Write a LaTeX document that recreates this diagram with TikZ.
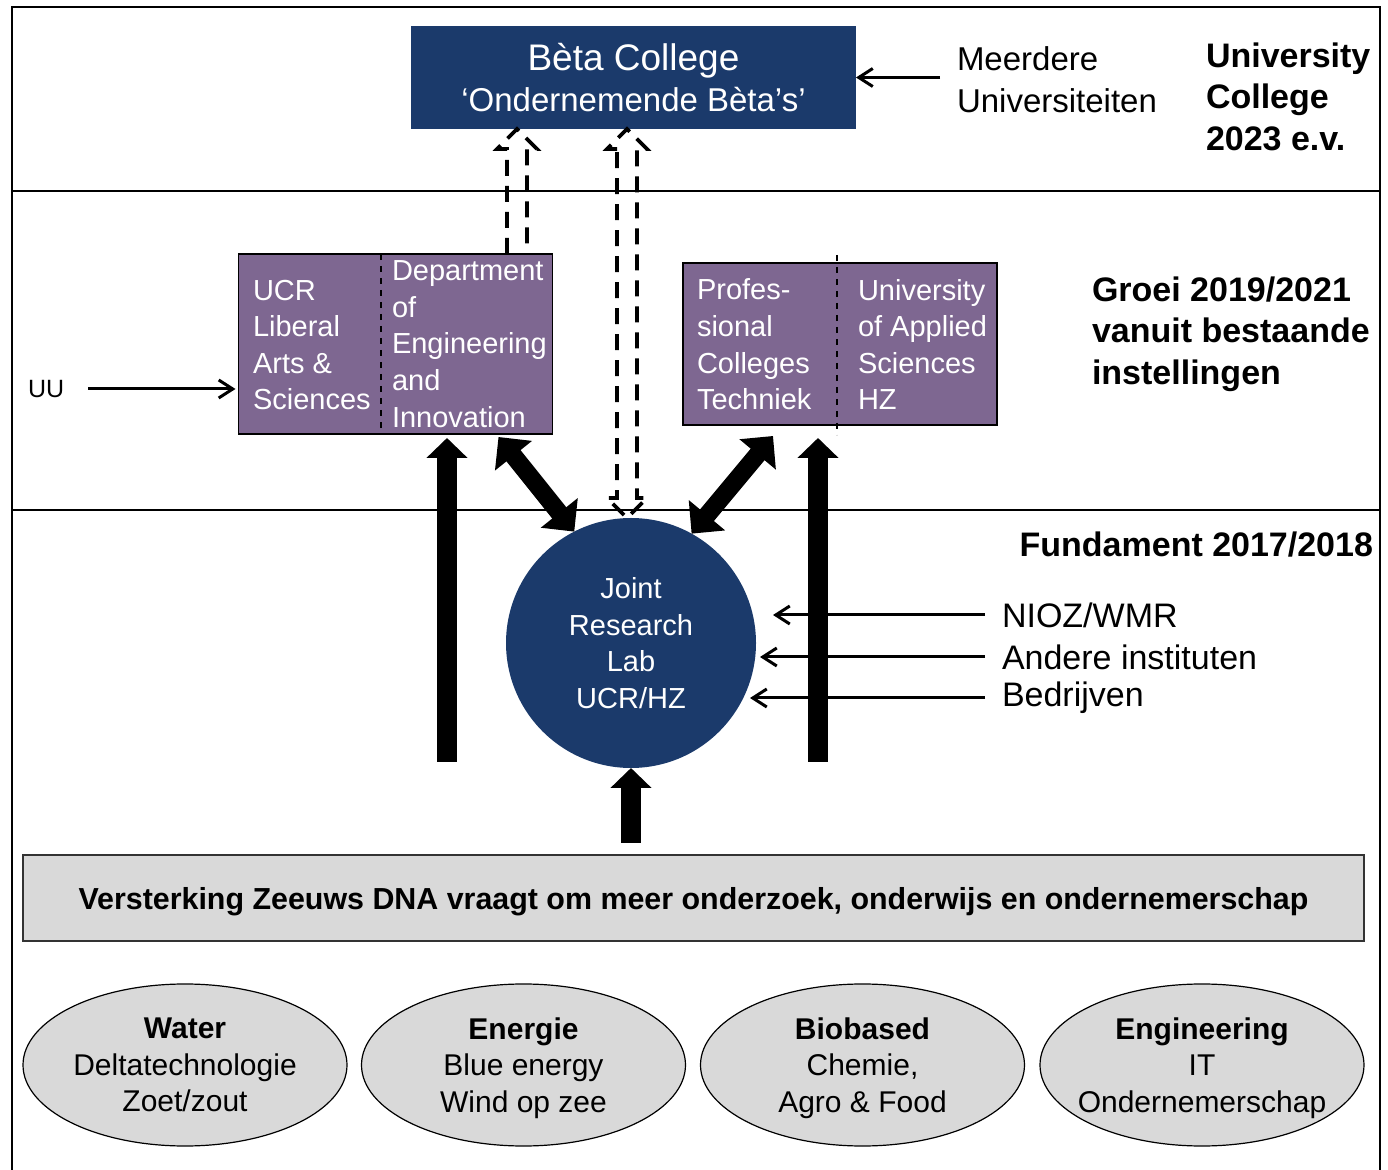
\documentclass[tikz,border=0pt]{standalone}
\usepackage{fontspec}
\setmainfont{Liberation Sans}
\usetikzlibrary{arrows.meta,calc,shapes.geometric}

\definecolor{betablue}{HTML}{1B3A6B}
\definecolor{hzpurple}{HTML}{7E6791}
\definecolor{zeeuwsgrey}{HTML}{D9D9D9}

\begin{document}
\begin{tikzpicture}[x=0.5pt, y=-0.5pt,
	%Option for arrows
	>=stealth, %
	inner sep=0pt, outer sep=0pt,%
	boxtext/.style={font=\fontsize{14.5}{18.3}\selectfont, text=white, align=left, anchor=west},
	label/.style={font=\fontsize{17}{20.75}\selectfont, align=left, anchor=west},
	fase/.style={font=\bfseries\fontsize{17}{20.75}\selectfont, align=left, anchor=west},
	instelling/.style={draw=black, line width=0.8pt, fill=hzpurple, minimum width=157pt, minimum height=#1},
	pijl/.style={line width=1.5pt, -{Straight Barb[length=7pt,width=9pt]}},
	blok/.style={line width=10pt, -{Triangle[length=10pt,width=20pt]}},
	dubbelblok/.style={line width=9pt, {Triangle[length=12pt,width=23pt]}-{Triangle[length=12pt,width=23pt]}},
	stippel/.style={line width=1.8pt, dash pattern=on 8pt off 5pt},
	sector/.style={ellipse, draw=black, line width=0.6pt, fill=zeeuwsgrey, minimum width=162pt, minimum height=81pt},
	sectortext/.style={align=center, text depth=0pt, font=\fontsize{15}{18.25}\selectfont},
	]
	\useasboundingbox (0,0) rectangle (1388,1170);
	
	% Frame and phases
	\draw[line width=1pt] (12,1170) -- (12,7) -- (1380,7) -- (1380,1170);
	\draw[line width=1pt] (12,191) -- (1380,191) (12,510) -- (1380,510);
	
	% University College 2023
	\node[fill=betablue, minimum width=222.5pt, minimum height=51.5pt, text=white, align=center] (beta) at (633.5,77.5)
	{\fontsize{18.5}{21}\selectfont Bèta College\\[3.5pt]\fontsize{16.5}{21}\selectfont ‘Ondernemende Bèta’s’};
	\node[label, font=\fontsize{16.5}{21}\selectfont] (meer) at (957,80) {Meerdere\\Universiteiten};
	\node[fase] (uc) at (1206,96.5) {University\\College\\2023 e.v.};
	
	% Groei 2019/2021
	\coordinate (ucrdiv) at (381,0);
	\coordinate (pctdiv) at (837,0);
	\node[instelling=90pt] (ucr) at (395.5,344) {};
	\draw[dashed, line width=0.6pt] (ucr.north -| ucrdiv) -- (ucr.south -| ucrdiv);
	\node[boxtext] (ucrl) at (253,345) {UCR\\Liberal\\Arts \&\\Sciences};
	\node[boxtext] (ucrr) at (392,344) {Department\\of\\Engineering\\and\\Innovation};
	
	\node[instelling=81pt] (pct) at (840,344) {};
	\draw[dashed, line width=0.6pt] ($(pct.north -| pctdiv)+(0,-8)$) -- ($(pct.south -| pctdiv)+(0,10)$);
	\node[boxtext] (pctl) at (697,344.5) {Profes-\\sional\\Colleges\\Techniek};
	\node[boxtext] (pctr) at (858,344.5) {University\\of Applied\\Sciences\\HZ};
	
	\node[fase] (groei) at (1092,334) {Groei 2019/2021\\vanuit bestaande\\instellingen};
	\node[label, font=\fontsize{12.5}{15}\selectfont] (uu) at (28,389) {UU};
	
	% Fundament 2017/2018
	\node[fase, anchor=east] (fund) at (1373,545) {Fundament 2017/2018};
	\node[circle, fill=betablue, minimum size=125pt, text=white, align=center,
	font=\fontsize{14.5}{18.25}\selectfont] (jrl) at (631,643) {Joint\\Research\\Lab\\UCR/HZ};
	\node[label] (nioz) at (1002,615) {NIOZ/WMR};
	\node[label] (andere) at (1002,657) {Andere instituten};
	\node[label] (bedr) at (1002,698) {Bedrijven};
	
	\node[draw=black!80, line width=0.8pt, fill=zeeuwsgrey, minimum width=670.5pt, minimum height=43pt,
	text depth=0pt, font=\bfseries\fontsize{15.2}{18}\selectfont] (dna) at (693.5,898)
	{Versterking Zeeuws DNA vraagt om meer onderzoek, onderwijs en ondernemerschap};
	
	% Sectors
	\node[sector] (water) at (185,1065) {};
	\node[sectortext] at (water) {\textbf{Water}\\Deltatechnologie\\Zoet/zout};
	\node[sector] (energie) at (523.5,1065) {};
	\node[sectortext] at (energie) {\textbf{Energie}\\Blue energy\\Wind op zee};
	\node[sector] (biobased) at (862.5,1065) {};
	\node[sectortext] at (biobased) {\textbf{Biobased}\\Chemie,\\Agro \& Food};
	\node[sector] (engineering) at (1202,1065) {};
	\node[sectortext] at (engineering) {\textbf{Engineering}\\IT\\Ondernemerschap};
	
	% Thin arrows
	\draw[pijl, shorten <=8.5pt] (beta.east -| meer.west) -- (beta.east);
	\draw[pijl, shorten <=12pt, shorten >=1.5pt] (uu.east) -- (uu.east -| ucr.west);
	\draw[pijl, shorten <=8.5pt, shorten >=8.5pt] (nioz.west) -- (nioz.west -| jrl.east);
	\draw[pijl, shorten <=8.5pt, shorten >=2pt] (andere.west) -- (andere.west -| jrl.east);
	\draw[pijl, shorten <=8.5pt, shorten >=-3pt] (bedr.west) -- (bedr.west -| jrl.east);
	
	% Block arrows
	\coordinate (lvoet) at (447,762);
	\coordinate (rvoet) at (818,762);
	\draw[blok, shorten >=2pt] (lvoet) -- (lvoet |- ucr.south);
	\draw[blok, shorten >=6.5pt] (rvoet) -- (rvoet |- pct.south);
	\draw[blok, shorten <=6pt] (jrl.south |- dna.north) -- (jrl.south);
	\draw[dubbelblok] ($(ucr.south east)+(-54,3)$) -- (jrl.117);
	\draw[dubbelblok] ($(pct.south west)+(90,11)$) -- (jrl.61);
	
	% Dashed arrows to Beta College
	\coordinate (s1) at (517,0);
	\coordinate (s2) at (627,0);
	\draw[stippel] ($(ucr.north -| s1)+(-10,0)$) -- ($(beta.south -| s1)+(-10,20)$) -- ++(-10,0)
	-- (beta.south -| s1) -- ++(20,20) -- ++(-10,0) -- ($(ucr.north -| s1)+(10,0)$);
	\draw[stippel] ($(beta.south -| s2)+(-10,20)$) -- ++(-10,0) -- (beta.south -| s2) -- ++(20,20)
	-- ++(-10,0) -- ($(jrl.north -| s2)+(10,-20)$) -- ++(10,0) -- (jrl.north -| s2) -- ++(-20,-20)
	-- ++(10,0) -- cycle;
\end{tikzpicture}
\end{document}
